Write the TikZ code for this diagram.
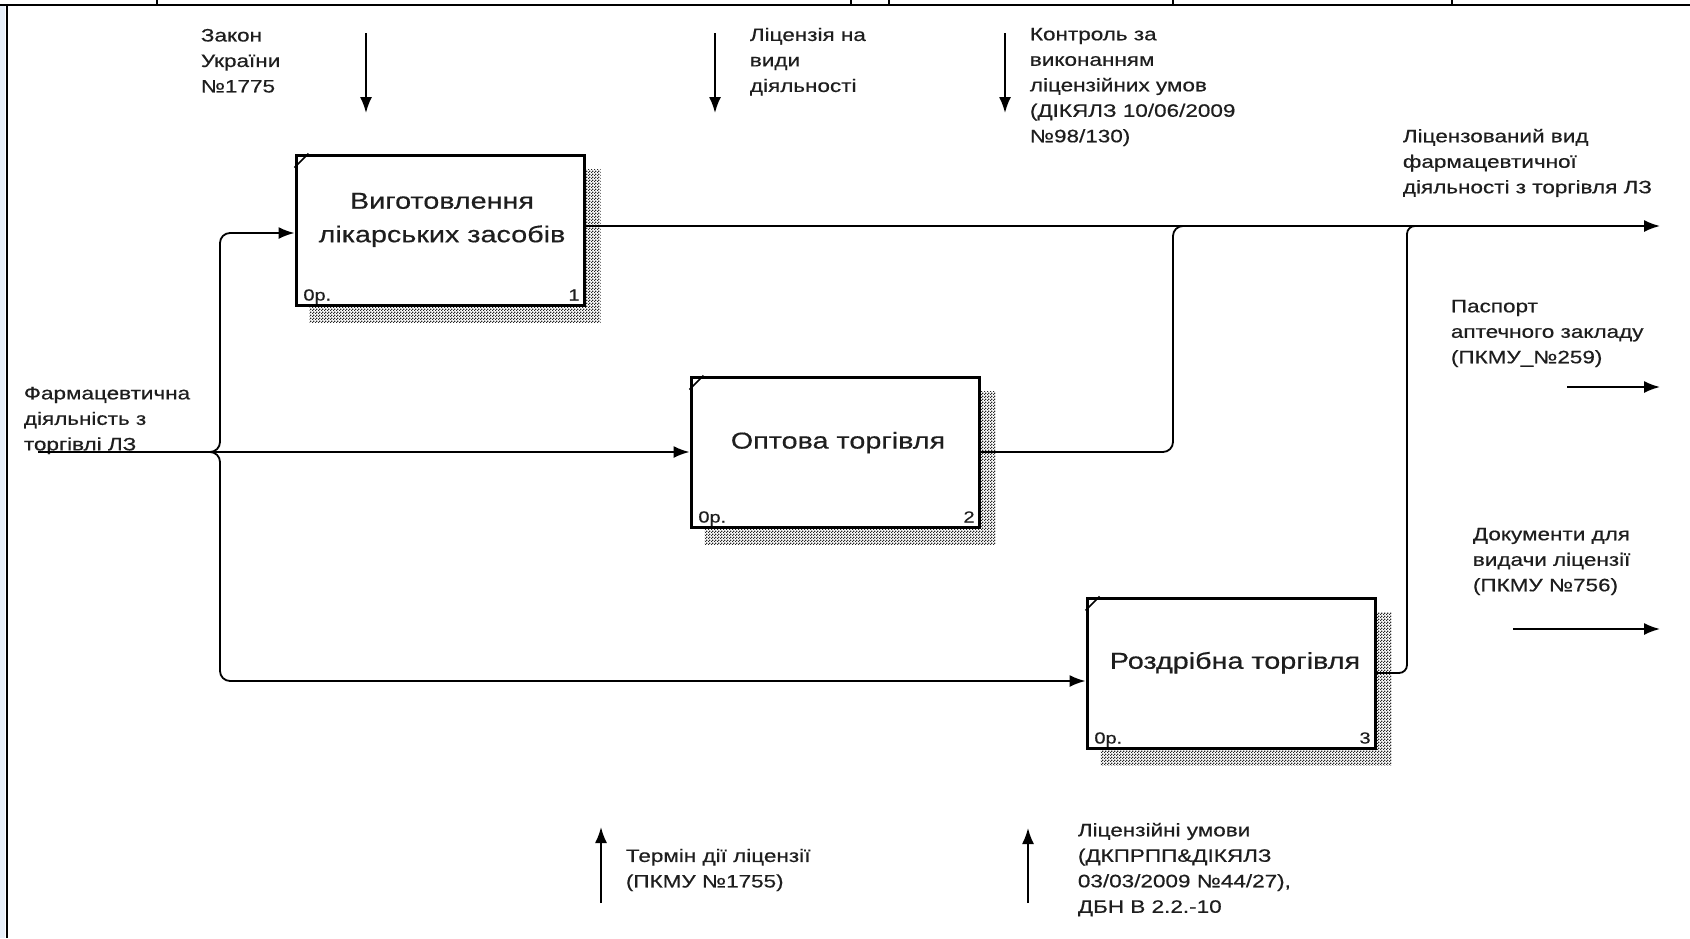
\documentclass[tikz,border=0pt]{standalone}
\usepackage{fontspec}
\setmainfont{Liberation Sans}[FakeStretch=1.25,FakeBold=0.5]
\usepackage{tikz}
\usetikzlibrary{arrows.meta, calc, patterns, backgrounds, positioning}

\newcommand{\idefsmall}{\fontsize{18}{25.5}\selectfont}
\newcommand{\idefbig}{\fontsize{23}{33.5}\selectfont}
\newcommand{\idefnum}{\fontsize{16}{18}\selectfont}
\definecolor{framebg}{RGB}{232,240,250}
\definecolor{ink}{RGB}{30,30,30}
\pgfdeclarepatternformonly{idefhatch}{\pgfpointorigin}{\pgfpoint{3pt}{3pt}}{\pgfpoint{3pt}{3pt}}{%
	\pgfpathrectangle{\pgfpointorigin}{\pgfpoint{1.5pt}{1.5pt}}%
	\pgfpathrectangle{\pgfpoint{1.5pt}{1.5pt}}{\pgfpoint{1.5pt}{1.5pt}}%
	\pgfusepath{fill}}

\begin{document}
\begin{tikzpicture}[->,>={Latex[length=16pt,width=12pt]},x=1pt,y=-1pt,line width=1.8pt]
	\tikzset{activity/.style={draw, line width=3pt, fill=white, minimum width=288pt, minimum height=150pt, inner sep=0pt},
		lbl/.style={anchor=north west, align=left, font=\idefsmall, inner sep=0pt, text=ink},
		boxlbl/.style={anchor=north, align=center, font=\idefbig, inner sep=0pt, text=ink},
		idnum/.style={font=\idefnum, inner sep=0pt, text=ink}}
	\useasboundingbox (0,0) rectangle (1690,938);
	\draw[-, line width=2pt] (0,5) -- (1690,5);
	\draw[-, line width=2pt] (7,5) -- (7,938);
	\foreach \x in {157,851,889,1173,1452}
		\draw[-, line width=1.5pt] (\x,0) -- (\x,5);

	\node[activity] (b1) at (440,230) {};
	\node[activity] (b2) at (835,452) {};
	\node[activity] (b3) at (1231,673) {};
	\node[boxlbl] (t1) at (442,192) {Виготовлення\\лікарських засобів};
	\node[boxlbl] (t2) at (838,431) {Оптова торгівля};
	\node[boxlbl] (t3) at (1235,651) {Роздрібна торгівля};
	\foreach \b/\n in {b1/1,b2/2,b3/3} {
		\draw[-, line width=1.5pt] ([yshift=-14pt]\b.north west) -- ([xshift=14pt]\b.north west);
		\node[idnum, anchor=base west] (\b-org) at ([shift={(8pt,6pt)}]\b.south west) {0р.};
		\node[idnum, anchor=base east] (\b-num) at ([shift={(-5pt,6pt)}]\b.south east) {\n};
	}
	\begin{scope}[on background layer]
		\fill[framebg] (0,5) rectangle (5,938);
		\foreach \b in {b1,b2,b3}
			\fill[pattern=idefhatch, pattern color=black!85] ($(\b.south west)+(15,16)$) rectangle ($(\b.north east)+(15,16)$);
	\end{scope}

	\node[lbl] (tZakon) at (200,28) {Закон\\України\\№1775};
	\node[lbl] (tLic) at (749,27) {Ліцензія на\\види\\діяльності};
	\node[lbl] (tKontr) at (1029,27) {Контроль за\\виконанням\\ліцензійних умов\\(ДІКЯЛЗ 10/06/2009\\№98/130)};
	\node[lbl] (tOut1) at (1402,128) {Ліцензований вид\\фармацевтичної\\діяльності з торгівля ЛЗ};
	\node[lbl] (tPasp) at (1450,299) {Паспорт\\аптечного закладу\\(ПКМУ\_№259)};
	\node[lbl] (tDocs) at (1472,527) {Документи для\\видачи ліцензії\\(ПКМУ №756)};
	\node[lbl] (tFarm) at (23,386) {Фармацевтична\\діяльність з\\торгівлі ЛЗ};
	\node[lbl] (tTerm) at (625,848) {Термін дії ліцензії\\(ПКМУ №1755)};
	\node[lbl] (tUmovy) at (1077,822) {Ліцензійні умови\\(ДКПРПП\&ДІКЯЛЗ\\03/03/2009 №44/27),\\ДБН В 2.2.-10};

	\coordinate (c1s) at (366,33);
	\coordinate (c1e) at (366,113);
	\coordinate (c2s) at (715,33);
	\coordinate (c2e) at (715,113);
	\coordinate (c3s) at (1005,33);
	\coordinate (c3e) at (1005,113);
	\coordinate (m1s) at (601,903);
	\coordinate (m1e) at (601,827);
	\coordinate (m2s) at (1028,903);
	\coordinate (m2e) at (1028,828);
	\coordinate (o1) at (1660,226);
	\coordinate (o2s) at (1567,387);
	\coordinate (o2e) at (1660,387);
	\coordinate (o3s) at (1513,629);
	\coordinate (o3e) at (1660,629);
	\coordinate (in) at (38,452);
	\coordinate (split) at (220,452);
	\coordinate (k2) at (1173,226);
	\coordinate (j2) at (1192,226);
	\coordinate (k3) at (1407,226);
	\coordinate (j3) at (1424,226);

	\path
		(c1s) edge (c1e)
		(c2s) edge (c2e)
		(c3s) edge (c3e)
		(m1s) edge (m1e)
		(m2s) edge (m2e)
		(o2s) edge (o2e)
		(o3s) edge (o3e)
		([yshift=4pt]b1.east) edge (o1)
		(in) edge (b2.west);
	\draw[rounded corners=10pt] (in) -- (split) |- ([yshift=-3pt]b1.west);
	\draw[rounded corners=10pt] (in) -- (split) |- ([yshift=-8pt]b3.west);
	\draw[-, rounded corners=10pt] (b2.east) -| (k2) -- (j2);
	\draw[-, rounded corners=8pt] (b3.east) -| (k3) -- (j3);
\end{tikzpicture}
\end{document}
